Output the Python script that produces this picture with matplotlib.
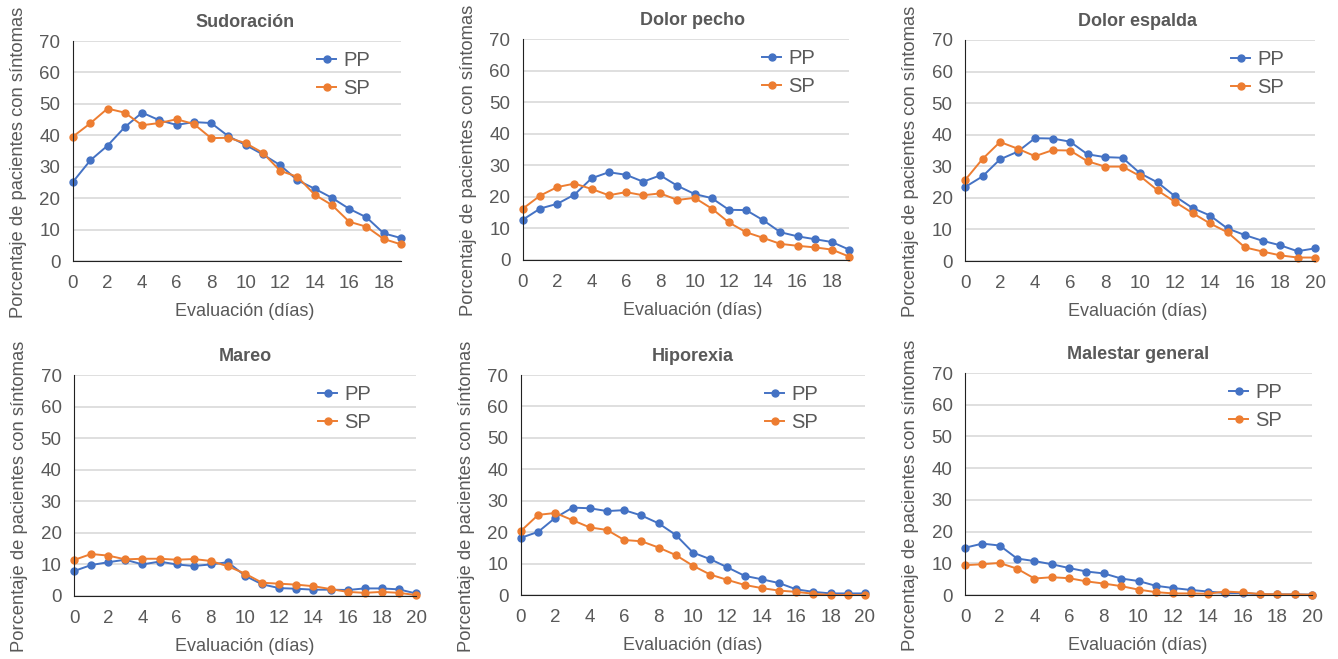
import numpy as np
import matplotlib
matplotlib.use("Agg")
import matplotlib.pyplot as plt

plt.rcParams['font.family'] = ['Liberation Sans', 'DejaVu Sans']

# dias de evaluacion
dias_19 = list(range(20))
dias_20 = list(range(21))

titles = ["Sudoración", "Dolor pecho", "Dolor espalda",
          "Mareo", "Hiporexia", "Malestar general"]

sudoracion_pp = [25.2, 32.0, 36.7, 42.6, 47.2, 44.8, 43.3, 44.2, 43.9, 39.7,
                 36.9, 33.9, 30.5, 25.7, 23.0, 20.1, 16.6, 13.9, 8.8, 7.3]
sudoracion_sp = [39.6, 43.8, 48.5, 47.2, 43.2, 43.9, 45.1, 43.6, 39.1, 39.2,
                 37.5, 34.4, 28.7, 26.8, 21.1, 17.8, 12.5, 10.9, 7.0, 5.3]

pecho_pp = [12.8, 16.3, 17.8, 20.7, 25.9, 27.8, 27.0, 24.8, 26.8, 23.5,
            20.9, 19.6, 15.9, 15.8, 12.6, 8.8, 7.5, 6.6, 5.7, 3.3]
pecho_sp = [16.3, 20.4, 23.1, 24.2, 22.5, 20.5, 21.5, 20.5, 21.1, 19.0,
            19.7, 16.3, 11.9, 8.8, 7.0, 5.1, 4.5, 4.0, 3.3, 1.1]

espalda_pp = [23.4, 26.8, 32.2, 34.6, 38.9, 38.8, 37.8, 33.8, 32.9, 32.7,
              27.8, 24.9, 20.5, 16.8, 14.4, 10.3, 8.2, 6.4, 5.0, 3.1, 4.0]
espalda_sp = [25.6, 32.3, 37.7, 35.6, 33.2, 35.1, 35.0, 31.6, 29.9, 29.9,
              26.9, 22.4, 18.7, 15.2, 11.9, 9.1, 4.3, 3.0, 1.8, 1.1, 1.1]

mareo_pp = [7.9, 9.8, 10.7, 11.5, 10.0, 10.9, 10.0, 9.5, 10.0, 10.7,
            6.4, 3.7, 2.5, 2.3, 2.0, 2.0, 1.9, 2.4, 2.4, 2.1, 0.8]
mareo_sp = [11.4, 13.3, 12.8, 11.6, 11.8, 11.8, 11.5, 11.7, 11.1, 9.4,
            7.1, 4.2, 3.9, 3.6, 3.1, 2.2, 1.3, 1.0, 1.3, 1.0, 0.3]

hiporexia_pp = [18.2, 20.1, 24.6, 27.8, 27.6, 26.7, 27.0, 25.3, 22.8, 19.1,
                13.5, 11.4, 8.8, 6.1, 5.0, 3.8, 1.8, 1.0, 0.5, 0.5, 0.5]
hiporexia_sp = [20.4, 25.5, 26.1, 23.8, 21.5, 20.7, 17.5, 17.1, 15.1, 12.7,
                9.3, 6.5, 4.8, 3.2, 2.2, 1.4, 1.0, 0.4, 0.0, 0.0, 0.0]

malestar_pp = [14.9, 16.2, 15.6, 11.5, 10.7, 9.7, 8.5, 7.4, 6.8, 5.2,
               4.4, 2.9, 2.2, 1.6, 1.1, 0.6, 0.6, 0.3, 0.2, 0.2, 0.1]
malestar_sp = [9.4, 9.7, 10.1, 8.3, 5.2, 5.6, 5.3, 4.3, 3.6, 2.8,
               1.7, 0.9, 0.5, 0.5, 0.4, 1.1, 0.8, 0.3, 0.2, 0.2, 0.1]

series = [
    (dias_19, sudoracion_pp, sudoracion_sp),
    (dias_19, pecho_pp, pecho_sp),
    (dias_20, espalda_pp, espalda_sp),
    (dias_20, mareo_pp, mareo_sp),
    (dias_20, hiporexia_pp, hiporexia_sp),
    (dias_20, malestar_pp, malestar_sp),
]

W, H = 1338, 659
# axes boxes in pixels: left, top, right, bottom
boxes = [
    (73, 41, 401, 261), (523, 39, 849, 260), (965, 40, 1315, 261),
    (74, 375, 416, 596), (521, 375, 865, 595), (965, 373, 1312, 595),
]
# centre of title / x label and left edge of legend handle (pixels)
text_cx = [245, 693, 1138, 245, 693, 1138]
legend_x = [317, 762, 1231, 318, 765, 1229]

blue = '#4472C4'
orange = '#ED7D31'
txt = '#595959'

fig = plt.figure(figsize=(W / 100, H / 100), dpi=100)

for i, ((x, pp, sp), title, (l, t, r, b)) in enumerate(zip(series, titles, boxes)):
    w, h = r - l, b - t
    ax = fig.add_axes([l / W, 1 - b / H, w / W, h / H])
    ax.plot(x, pp, color=blue, marker='o', markersize=5, lw=1.4, label='PP', clip_on=False)
    ax.plot(x, sp, color=orange, marker='o', markersize=5, lw=1.4, label='SP', clip_on=False)
    ax.set_xlim(0, x[-1])
    ax.set_ylim(0, 70)
    ax.set_yticks(np.arange(0, 71, 10))
    ax.set_xticks(np.arange(0, x[-1] + 1, 2))
    ax.grid(axis='y', color='#D9D9D9', lw=1.2)
    ax.set_axisbelow(True)
    for s in ['top', 'right']:
        ax.spines[s].set_visible(False)
    ax.spines['left'].set_color('#222222')
    ax.spines['bottom'].set_color('#222222')
    ax.tick_params(length=0, labelsize=13.5, labelcolor=txt)
    ax.tick_params(axis='x', pad=10)
    ax.tick_params(axis='y', pad=9)
    cx = (text_cx[i] - l) / w
    ax.set_title(title, fontsize=13, fontweight='bold', color=txt, pad=10, x=cx)
    ax.set_xlabel('Evaluación (días)', fontsize=13, color=txt)
    ax.xaxis.set_label_coords(cx, -42 / h)
    ax.set_ylabel('Porcentaje de pacientes con síntomas', fontsize=13.2, color=txt)
    ax.yaxis.set_label_coords(-46 / w, 0.5 - 11 / h)
    ax.legend(loc='upper left', frameon=False, fontsize=14.5, labelcolor=txt,
              handlelength=0.95, handletextpad=0.35, labelspacing=0.45,
              borderpad=0, borderaxespad=0,
              bbox_to_anchor=((legend_x[i] - l) / w, 1 - 10 / h))

fig.savefig('out.png', dpi=100)
